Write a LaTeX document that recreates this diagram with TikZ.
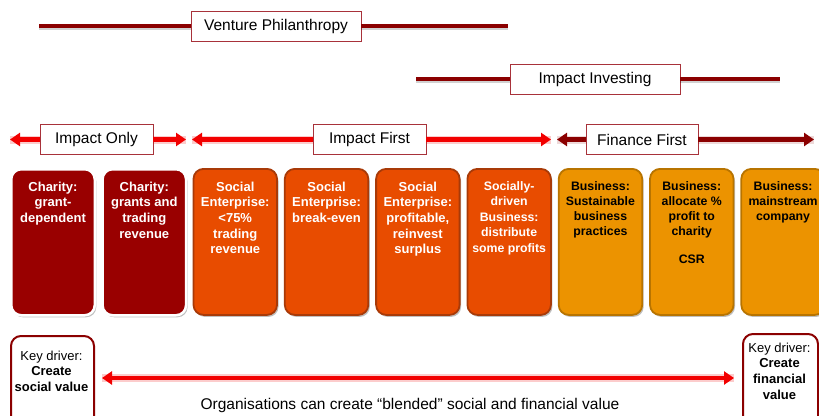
\documentclass[tikz,border=0pt]{standalone}
\usepackage{fontspec}
\setmainfont{Liberation Sans}
\usetikzlibrary{arrows.meta,shadows}
\definecolor{dred}{HTML}{990000}
\definecolor{ored}{HTML}{E84C00}
\definecolor{oredb}{HTML}{A83A08}
\definecolor{orng}{HTML}{EC9300}
\definecolor{orngb}{HTML}{B87400}
\definecolor{bred}{HTML}{F20000}
\definecolor{labb}{HTML}{A8323A}
\definecolor{fdred}{HTML}{8B0000}
\tikzset{
  lab/.style={draw=labb, line width=0.8pt, fill=white, minimum height=30pt, inner sep=0pt,
    font=\fontsize{15.5}{18}\selectfont},
  vline/.style={line width=4pt, fdred},
  vshadow/.style={line width=4pt, black, opacity=0.18},
  rarrow/.style={line width=4.5pt, bred, -{Triangle[width=13pt,length=10pt]},
    preaction={draw=bred, opacity=0.2, line width=8pt, -}},
  darrow/.style={line width=4.5pt, fdred, -{Triangle[width=13pt,length=10pt]},
    preaction={draw=fdred, opacity=0.15, line width=8pt, -}},
  colbox/.style={rounded corners=10pt, minimum width=83.5pt, minimum height=146pt,
    anchor=north west, inner sep=0pt,
    drop shadow={shadow xshift=1.5pt, shadow yshift=-2pt, opacity=0.25, fill=black}},
  charbox/.style={colbox, fill=dred, draw=white, line width=2.5pt},
  sebox/.style={colbox, fill=ored, draw=oredb, line width=1.8pt},
  bizbox/.style={colbox, fill=orng, draw=orngb, line width=1.8pt},
  wtxt/.style={anchor=north, inner sep=0pt, align=center, text=white,
    font=\bfseries\fontsize{13}{15.7}\selectfont},
  btxt/.style={anchor=north, inner sep=0pt, align=center, text=black,
    font=\bfseries\fontsize{12.3}{15}\selectfont},
  keybox/.style={rounded corners=10pt, draw=fdred, line width=2pt, fill=white,
    anchor=north west, minimum height=100pt, inner sep=0pt},
  ktxt/.style={anchor=north, inner sep=0pt, align=center, font=\fontsize{13}{15.8}\selectfont}
}
\begin{document}
\begin{tikzpicture}[x=1pt,y=-1pt]
\useasboundingbox (0,0) rectangle (819,415);
\clip (0,0) rectangle (819,415);

% top bands
\node[lab, minimum width=170pt] (vp) at (276,26) {Venture Philanthropy};
\node[lab, minimum width=170pt] (ii) at (595,79) {Impact Investing};
\coordinate (vpL) at (39,26);
\coordinate (vpR) at (508,26);
\coordinate (iiL) at (416,79);
\coordinate (iiR) at (780,79);
\draw[vshadow] ([yshift=-2pt]vp.west) -- ([yshift=-2pt]vpL);
\draw[vshadow] ([yshift=-2pt]vp.east) -- ([yshift=-2pt]vpR);
\draw[vshadow] ([yshift=-2pt]ii.west) -- ([yshift=-2pt]iiL);
\draw[vshadow] ([yshift=-2pt]ii.east) -- ([yshift=-2pt]iiR);
\draw[vline] (vp.west) -- (vpL);
\draw[vline] (vp.east) -- (vpR);
\draw[vline] (ii.west) -- (iiL);
\draw[vline] (ii.east) -- (iiR);

% category arrows
\node[lab, minimum width=113pt] (io) at (96.5,139.5) {Impact Only};
\node[lab, minimum width=113pt] (ifi) at (369.5,139.5) {Impact First};
\node[lab, minimum width=112pt] (ff) at (642,139.5) {Finance First};
\coordinate (ioL) at (10,139.5);
\coordinate (ioR) at (186,139.5);
\coordinate (ifL) at (192,139.5);
\coordinate (ifR) at (551,139.5);
\coordinate (ffL) at (557,139.5);
\coordinate (ffR) at (814,139.5);
\draw[rarrow] (io.west) -- (ioL);
\draw[rarrow] (io.east) -- (ioR);
\draw[rarrow] (ifi.west) -- (ifL);
\draw[rarrow] (ifi.east) -- (ifR);
\draw[darrow] (ff.west) -- (ffL);
\draw[darrow] (ff.east) -- (ffR);

% columns
\node[charbox] (b1) at (10,168) {};
\node[charbox] (b2) at (101.3,168) {};
\node[sebox] (b3) at (192.6,168) {};
\node[sebox] (b4) at (283.9,168) {};
\node[sebox] (b5) at (375.2,168) {};
\node[sebox] (b6) at (466.5,168) {};
\node[bizbox] (b7) at (557.8,168) {};
\node[bizbox] (b8) at (649.1,168) {};
\node[bizbox] (b9) at (740.4,168) {};

\node[wtxt] (t1) at ([yshift=-13.5pt]b1.north) {Charity:\\grant-\\dependent};
\node[wtxt] (t2) at ([yshift=-13.5pt]b2.north) {Charity:\\grants and\\trading\\revenue};
\node[wtxt] (t3) at ([yshift=-13.5pt]b3.north) {Social\\Enterprise:\\<75\%\\trading\\revenue};
\node[wtxt] (t4) at ([yshift=-13.5pt]b4.north) {Social\\Enterprise:\\break-even};
\node[wtxt] (t5) at ([yshift=-13.5pt]b5.north) {Social\\Enterprise:\\profitable,\\reinvest\\surplus};
\node[wtxt, font=\bfseries\fontsize{12.3}{15.6}\selectfont] (t6) at ([yshift=-13pt]b6.north) {Socially-\\driven\\Business:\\distribute\\some profits};
\node[btxt] (t7) at ([yshift=-13pt]b7.north) {Business:\\Sustainable\\business\\practices};
\node[btxt] (t8) at ([yshift=-13pt]b8.north) {Business:\\allocate \%\\profit to\\charity\\[13pt]CSR};
\node[btxt] (t9) at ([yshift=-13pt]b9.north) {Business:\\mainstream\\company};

% key drivers
\node[keybox, minimum width=83pt] (kl) at (10,335) {};
\node[keybox, minimum width=75pt] (kr) at (742,333) {};
\node[ktxt] (klt) at (51.5,350.5) {Key driver:\\\textbf{Create}\\\textbf{social value}};
\node[ktxt] (krt) at (779.5,342.5) {Key driver:\\\textbf{Create}\\\textbf{financial}\\\textbf{value}};
\coordinate (bl) at (102,378);
\coordinate (br) at (734,378);
\draw[rarrow, {Triangle[width=13pt,length=10pt]}-{Triangle[width=13pt,length=10pt]}] (bl) -- (br);
\node[inner sep=0pt, font=\fontsize{15.5}{18}\selectfont] (org) at (410,405) {Organisations can create “blended” social and financial value};
\end{tikzpicture}
\end{document}
